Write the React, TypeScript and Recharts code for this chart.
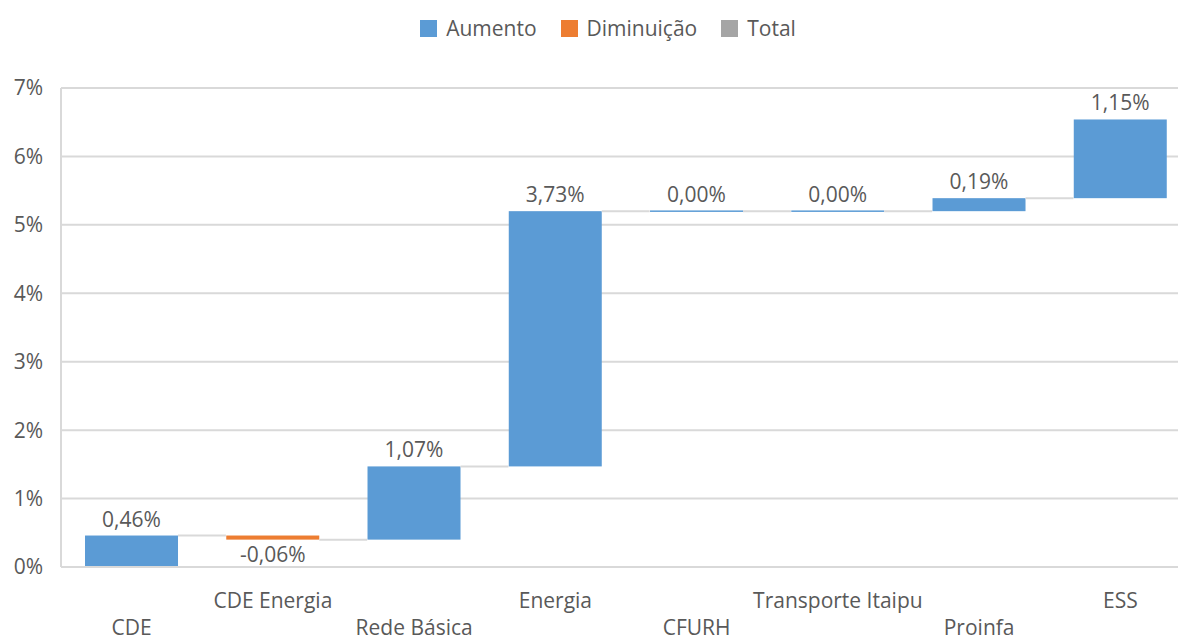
import React from 'react'
import { BarChart, Bar, XAxis, YAxis, CartesianGrid, Cell, LabelList } from 'recharts'

const categories = ['CDE', 'CDE Energia', 'Rede Básica', 'Energia', 'CFURH', 'Transporte Itaipu', 'Proinfa', 'ESS']
const deltas = [0.46, -0.06, 1.07, 3.73, 0.0, 0.0, 0.19, 1.15]
const yTicks = [0, 1, 2, 3, 4, 5, 6, 7]
const legendItems = [
  { name: 'Aumento', color: '#5B9BD5' },
  { name: 'Diminuição', color: '#ED7D31' },
  { name: 'Total', color: '#A5A5A5' },
]

const UP = '#5B9BD5'
const DOWN = '#ED7D31'
const TEXT = '#595959'
const GRID = '#D9D9D9'
const FONT = '"Open Sans", sans-serif'
const GAP_PCT = 0.17

// running totals -> [low, high] range for each bar
let running = 0
const data = categories.map((name, i) => {
  const start = running
  const end = start + deltas[i]
  running = end
  return { name, delta: deltas[i], end, range: [Math.min(start, end), Math.max(start, end)] }
})

const fmt = (v: number) => v.toFixed(2).replace('.', ',') + '%'

function WaterfallBar(props: any) {
  const { x, y, width, height, index } = props
  const d = data[index]
  const fill = d.delta < 0 ? DOWN : UP
  const h = Math.max(height, 1.5)
  const endY = d.delta < 0 ? y + height : y
  const gap = (width * 2 * GAP_PCT) / (1 - 2 * GAP_PCT)
  return (
    <g>
      <rect x={x} y={height < 1.5 ? y - 0.75 : y} width={width} height={h} fill={fill} />
      {index < data.length - 1 && (
        <line x1={x + width} x2={x + width + gap} y1={endY} y2={endY} stroke={GRID} strokeWidth={2} />
      )}
    </g>
  )
}

function BarLabel(props: any) {
  const { x, y, width, height, index } = props
  const d = data[index]
  const neg = d.delta < 0
  return (
    <text x={x + width / 2} y={neg ? y + height + 22 : y - 9} textAnchor="middle" fill={TEXT}
      fontSize={21} fontFamily={FONT}>
      {fmt(d.delta)}
    </text>
  )
}

function CatTick(props: any) {
  const { x, y, payload, index } = props
  const lower = index % 2 === 0
  return (
    <text x={x} y={y + (lower ? 68 : 41)} textAnchor="middle" fill={TEXT} fontSize={21} fontFamily={FONT}>
      {payload.value}
    </text>
  )
}

export default function App() {
  return (
    <div style={{ position: 'absolute', left: 0, top: 0, width: 1178, height: 641, overflow: 'hidden', background: '#fff' }}>
      {/* legend */}
      <div style={{ position: 'absolute', top: 13, left: 0, width: 1216, display: 'flex', justifyContent: 'center',
        gap: 24, fontFamily: FONT, fontSize: 21, color: TEXT, lineHeight: '30px' }}>
        {legendItems.map(l => (
          <div key={l.name} style={{ display: 'flex', alignItems: 'center', gap: 9 }}>
            <div style={{ width: 17, height: 17, background: l.color }} />
            <span>{l.name}</span>
          </div>
        ))}
      </div>
      <BarChart width={1200} height={641} data={data} margin={{ top: 88, right: 9, bottom: 0, left: 0 }}
        barCategoryGap={`${GAP_PCT * 100}%`}>
        <CartesianGrid vertical={false} stroke={GRID} strokeWidth={2} />
        <XAxis dataKey="name" height={74} tickLine={false} axisLine={{ stroke: GRID, strokeWidth: 2 }}
          tickSize={0} tickMargin={0} interval={0} tick={<CatTick />} />
        <YAxis width={61} domain={[0, 7]} ticks={yTicks} tickFormatter={(v: number) => `${v}%`}
          tickLine={false} axisLine={{ stroke: GRID, strokeWidth: 2 }} tickMargin={12}
          tick={{ fill: TEXT, fontSize: 21, fontFamily: FONT }} />
        <Bar dataKey="range" shape={<WaterfallBar />} isAnimationActive={false}>
          {data.map((d, i) => <Cell key={i} fill={d.delta < 0 ? DOWN : UP} />)}
          <LabelList dataKey="delta" content={<BarLabel />} />
        </Bar>
      </BarChart>
    </div>
  )
}
